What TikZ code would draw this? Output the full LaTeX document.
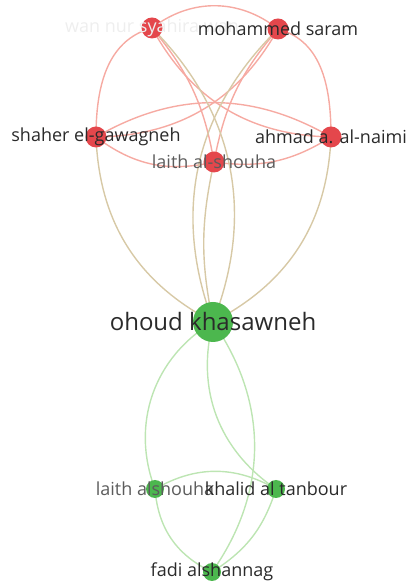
\documentclass[tikz,border=0pt]{standalone}
\usepackage{fontspec}
\setmainfont{Open Sans}
\usetikzlibrary{backgrounds}
\definecolor{nodered}{HTML}{E4474C}
\definecolor{nodegreen}{HTML}{4CB74E}
\definecolor{linkred}{HTML}{F6AAA2}
\definecolor{linkgreen}{HTML}{BDE5B3}
\definecolor{linkmix}{HTML}{D7C9A6}
\definecolor{labelcol}{HTML}{2A2A2A}
\definecolor{labelgray}{HTML}{5C5C5C}
\definecolor{labelfaint}{HTML}{EEEEEE}
\tikzset{
  rednode/.style={circle,fill=nodered,inner sep=0pt,minimum size=#1},
  greennode/.style={circle,fill=nodegreen,inner sep=0pt,minimum size=#1},
  redlink/.style={draw=linkred,line width=1.4pt},
  greenlink/.style={draw=linkgreen,line width=1.4pt},
  mixlink/.style={draw=linkmix,line width=1.4pt},
  lbl/.style={inner sep=0pt,text=labelcol,font=\fontsize{18}{21}\selectfont},
}
\begin{document}
\begin{tikzpicture}[x=1pt,y=1pt]
  \useasboundingbox (0,0) rectangle (407,586);
  \node[rednode=21pt] (wan) at (152,558) {};
  \node[rednode=21pt] (saram) at (278,557) {};
  \node[rednode=21pt] (shaher) at (96,449) {};
  \node[rednode=21pt] (naimi) at (331,449) {};
  \node[rednode=21pt] (shouha) at (214,424) {};
  \node[greennode=40pt] (ohoud) at (213,264) {};
  \node[greennode=18pt] (alshouha) at (155,97) {};
  \node[greennode=18pt] (tanbour) at (276,97) {};
  \node[greennode=18pt] (fadi) at (212,14) {};
  \begin{scope}[on background layer]
    \draw[redlink] (wan.center) to[bend left=38] (saram.center);
    \draw[redlink] (saram.center) to[out=-15,in=90] (naimi.center);
    \draw[redlink] (wan.center) to[out=195,in=90] (shaher.center);
    \draw[redlink] (shaher.center) to[bend left=30] (naimi.center);
    \draw[redlink] (shaher.center) to[bend right=25] (shouha.center);
    \draw[redlink] (shouha.center) to[bend right=20] (naimi.center);
    \draw[redlink] (wan.center) to[bend right=30] (naimi.center);
    \draw[redlink] (saram.center) to[bend left=30] (shaher.center);
    \draw[redlink] (wan.center) to[bend left=15] (shouha.center);
    \draw[redlink] (saram.center) to[bend right=15] (shouha.center);
    \draw[mixlink] (wan.center) to[bend left=33] (ohoud.center);
    \draw[mixlink] (saram.center) to[bend right=33] (ohoud.center);
    \draw[mixlink] (shouha.center) to[bend right=12] (ohoud.center);
    \draw[mixlink] (shaher.center) to[bend right=30] (ohoud.center);
    \draw[mixlink] (naimi.center) to[bend left=30] (ohoud.center);
    \draw[greenlink] (ohoud.center) to[bend right=40] (alshouha.center);
    \draw[greenlink] (ohoud.center) to[bend right=35] (tanbour.center);
    \draw[greenlink] (ohoud.center) to[bend left=35] (fadi.center);
    \draw[greenlink] (alshouha.center) to[bend left=30] (tanbour.center);
    \draw[greenlink] (alshouha.center) to[bend right=30] (fadi.center);
    \draw[greenlink] (tanbour.center) to[bend left=20] (fadi.center);
  \end{scope}
  \node[lbl,text=labelfaint] (wanlbl) at (wan) {wan nur syahira wan};
  \node[lbl] (saramlbl) at (saram) {mohammed saram};
  \node[lbl] (shaherlbl) at (shaher) {shaher el-gawagneh};
  \node[lbl] (naimilbl) at (naimi) {ahmad a. al-naimi};
  \node[lbl,text=labelgray] (shouhalbl) at (shouha) {laith al-shouha};
  \node[lbl,font=\fontsize{24}{28}\selectfont] (ohoudlbl) at (ohoud) {ohoud khasawneh};
  \node[lbl,text=labelgray] (alshouhalbl) at (alshouha) {laith alshouha};
  \node[lbl] (tanbourlbl) at (tanbour) {khalid al tanbour};
  \node[lbl] (fadilbl) at (fadi) {fadi alshannag};
\end{tikzpicture}
\end{document}
